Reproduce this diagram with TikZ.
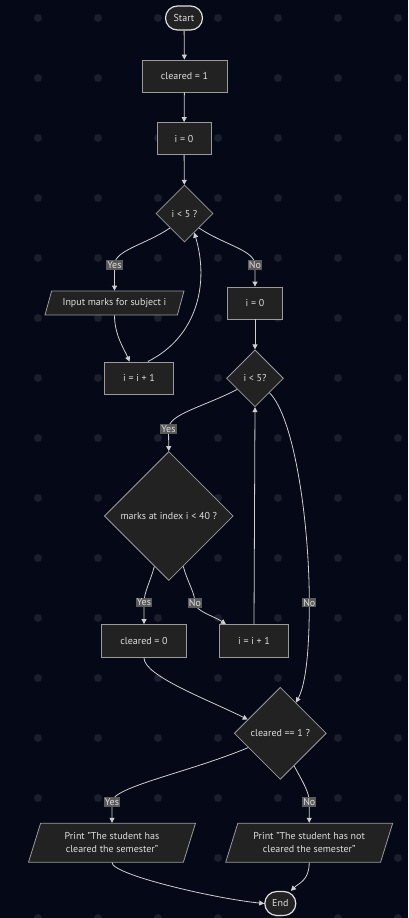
\documentclass[tikz,border=0pt]{standalone}
\usepackage{fontspec}
\setmainfont{PT Sans}
\usetikzlibrary{shapes.geometric}
\usetikzlibrary{arrows.meta}

\definecolor{bgnavy}{HTML}{040817}
\definecolor{griddot}{HTML}{1B1E2B}
\definecolor{boxfill}{HTML}{222222}
\definecolor{boxline}{HTML}{9A9A9A}
\definecolor{termline}{HTML}{E0E0E0}
\definecolor{boxtext}{HTML}{DDDDDD}
\definecolor{flowline}{HTML}{CFCFCF}
\definecolor{lblfill}{HTML}{5A5A5A}

\begin{document}
\begin{tikzpicture}[x=1pt, y=-1pt,
    >={Triangle[length=5pt,width=5pt]},
    font=\fontsize{10}{13}\selectfont,
    box/.style={rectangle, draw=boxline, fill=boxfill, text=boxtext,
        line width=0.8pt, minimum height=32pt, inner sep=2pt},
    term/.style={rectangle, rounded corners=12pt, draw=termline, fill=boxfill,
        text=boxtext, line width=1.2pt, minimum height=24pt, inner sep=2pt},
    decision/.style={diamond, aspect=1, draw=boxline, fill=boxfill,
        text=boxtext, line width=0.8pt, inner sep=0pt, minimum size=#1},
    io/.style={trapezium, trapezium left angle=63.4, trapezium right angle=116.6,
        trapezium stretches body, draw=boxline, fill=boxfill, text=boxtext,
        line width=0.8pt, inner sep=2pt, align=center},
    lbl/.style={fill=lblfill, text=boxtext, inner sep=1pt},
    flow/.style={draw=flowline, line width=0.8pt, ->}]

    % background with dot grid
    \fill [bgnavy] (0,0) rectangle (408,918);
    \useasboundingbox (0,0) rectangle (408,918);
    \foreach \gx in {38,98,...,398}
        \foreach \gy in {18,78,...,918}
            \fill [griddot] (\gx,\gy) circle (4pt);

    \path (184,18) node [term, minimum width=37pt] (start) {Start};
    \path (184.5,76) node [box, minimum width=85pt] (setc) {cleared = 1};
    \path (184,138.5) node [box, minimum width=54pt] (initi) {i = 0};
    \path (184.5,213.5) node [decision=57pt] (loopa) {i < 5 ?};
    \path (114.5,303) node [io, minimum width=139pt, minimum height=24pt] (input) {Input marks for subject i};
    \path (139,378) node [box, minimum width=69pt] (inca) {i = i + 1};
    \path (255,303) node [box, minimum width=55pt] (resti) {i = 0};
    \path (255,378.3) node [decision=57pt] (loopb) {i < 5?};
    \path (168.8,516) node [decision=129pt] (check) {marks at index i < 40 ?};
    \path (144,641) node [box, minimum width=85pt, minimum height=33pt] (clearz) {cleared = 0};
    \path (254,641) node [box, minimum width=69pt, minimum height=33pt] (incb) {i = i + 1};
    \path (280.3,733.3) node [decision=92pt] (passed) {cleared == 1 ?};
    \path (112,842.7) node [io, minimum width=167pt, minimum height=39pt] (outyes)
        {Print "The student has\\ cleared the semester"};
    \path (309.2,842.7) node [io, minimum width=167pt, minimum height=39pt] (outno)
        {Print "The student has not\\ cleared the semester"};
    \path (280.3,903.5) node [term, minimum width=31pt] (end) {End};

    % label spots
    \coordinate (lyesa) at (114.5,265);
    \coordinate (lnoa) at (255,265);
    \coordinate (lyesb) at (168.5,429);
    \coordinate (lnob) at (309.3,602.5);
    \coordinate (lyesc) at (144,602.5);
    \coordinate (lnoc) at (195,603);
    \coordinate (lyesd) at (112,802);
    \coordinate (lnod) at (309.3,802);

    \draw [flow] (start) -- (setc);
    \draw [flow] (setc) -- (initi);
    \draw [flow] (initi) -- (loopa);
    \draw [flow] (loopa.south west) .. controls +(-25,17) and +(0,-15) .. (lyesa)
        node [lbl] {Yes} -- (input.north);
    \draw [flow] (loopa.south east) .. controls +(25,17) and +(0,-15) .. (lnoa)
        node [lbl] {No} -- (resti.north);
    \draw [flow] (input.south) .. controls +(0,20) and +(-5,-12) .. (inca.120);
    \draw [flow] (inca.62) .. controls +(50,-25) and +(15,50) .. (loopa.-63);
    \draw [flow] (resti) -- (loopb);
    \draw [flow] (loopb.-148) .. controls +(-35,18) and +(0,-15) .. (lyesb)
        node [lbl] {Yes} -- (check.north);
    \draw [flow] (loopb.south east) .. controls +(25,25) and +(0,-80) .. (lnob)
        node [lbl] {No} .. controls +(0,60) and +(8,-15) .. (passed.63);
    \draw [flow] (check.-106) .. controls +(-4,15) and +(0,-10) .. (lyesc)
        node [lbl] {Yes} -- (clearz.north);
    \draw [flow] (check.-74) .. controls +(4,15) and +(0,-10) .. (lnoc)
        node [lbl] {No} .. controls +(0,8) and +(-12,-8) .. (incb.149);
    \draw [flow] (incb.north) -- (loopb.south);
    \draw [flow] (clearz.south) .. controls +(0,18) and +(-40,-20) .. (passed.157);
    \draw [flow] (passed.-156) .. controls +(-60,25) and +(0,-15) .. (lyesd)
        node [lbl] {Yes} -- (outyes.north);
    \draw [flow] (passed.-67) .. controls +(8,15) and +(0,-10) .. (lnod)
        node [lbl] {No} -- (outno.north);
    \draw [flow] (outyes.south) .. controls +(0,12) and +(-50,-5) .. (end.west);
    \draw [flow] (outno.south) .. controls +(0,18) and +(8,-8) .. (end.50);
\end{tikzpicture}
\end{document}
